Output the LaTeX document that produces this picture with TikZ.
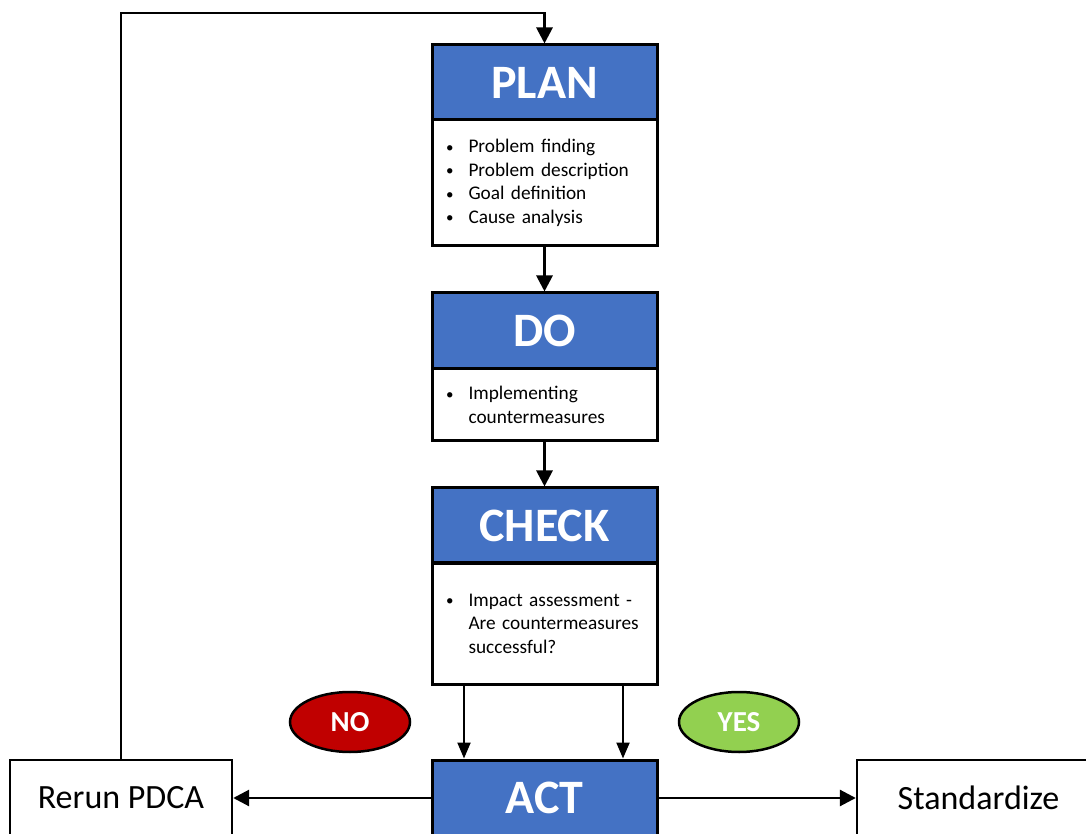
\documentclass[tikz,border=0pt]{standalone}
\usepackage{fontspec}
\setmainfont{Carlito}
\usetikzlibrary{arrows.meta,shapes.geometric}
\definecolor{pdcablue}{HTML}{4472C4}
\definecolor{noRed}{HTML}{C00000}
\definecolor{yesGreen}{HTML}{92D050}
\newcommand{\bul}{\makebox[23.5pt][l]{\hspace*{1pt}\raisebox{0.5pt}{\fontsize{15}{15}\selectfont\textbullet}}}
\newcommand{\ind}{\hspace*{23.5pt}}
\begin{document}
\begin{tikzpicture}[x=1pt,y=1pt,
  head/.style={draw=black, line width=3pt, fill=pdcablue, text=white,
    font=\fontsize{48}{48}\selectfont\bfseries, minimum width=225pt,
    inner sep=0pt},
  body/.style={draw=black, line width=3pt, fill=white, minimum width=225pt,
    text width=199pt, inner xsep=13pt, inner ysep=0pt, align=left,
    font=\fontsize{19.3}{23.5}\selectfont},
  side/.style={draw=black, line width=2.4pt, fill=white, inner sep=0pt,
    minimum height=76pt, font=\fontsize{34}{34}\selectfont},
  badge/.style={ellipse, draw=black, line width=2.5pt, minimum width=120pt,
    minimum height=60pt, inner sep=0pt, text=white,
    font=\fontsize{29}{29}\selectfont\bfseries},
  flow/.style={line width=2.8pt, -{Triangle[length=16pt,width=16pt]}},
  thinflow/.style={line width=2.2pt, -{Triangle[length=16pt,width=13pt]}}]
\clip (0,0) rectangle (1086,833);

% PLAN
\node[head, minimum height=75pt] (planH) at (544.5,750.5) {PLAN};
\node[body, minimum height=126pt] (planB) at (544.5,650) {%
  \bul Problem finding\\
  \bul Problem description\\
  \bul Goal definition\\
  \bul Cause analysis};

% DO
\node[head, minimum height=76pt] (doH) at (544.5,502) {DO};
\node[body, minimum height=72pt] (doB) at (544.5,428) {%
  \bul Implementing\\
  \ind countermeasures};

% CHECK
\node[head, minimum height=75pt] (checkH) at (544.5,307.5) {CHECK};
\node[body, minimum height=121pt] (checkB) at (544.5,209.5) {%
  \bul Impact assessment -\\
  \ind Are countermeasures\\
  \ind successful?};

% ACT and its outcomes
\node[head, minimum height=76pt] (act) at (544.5,35) {ACT};
\node[side, minimum width=222pt] (rerun) at (121,35) {Rerun PDCA};
\node[side, minimum width=243pt] (std) at (978.5,35) {Standardize};

% decision badges
\node[badge, fill=noRed] (no) at (350,111) {NO};
\node[badge, fill=yesGreen] (yes) at (739,111) {YES};

% connectors
\coordinate (loopTop) at (0,820);
\draw[flow] (planB.south) -- (doH.north);
\draw[flow] (doB.south) -- (checkH.north);
\draw[thinflow] ([xshift=-80.5pt]checkB.south) -- ([xshift=-80.5pt]act.north);
\draw[thinflow] ([xshift=78.5pt]checkB.south) -- ([xshift=78.5pt]act.north);
\draw[flow] (act.west) -- (rerun.east);
\draw[flow] (act.east) -- (std.west);
\draw[flow] (rerun.north) -- (rerun.north |- loopTop) -| (planH.north);
\end{tikzpicture}
\end{document}
